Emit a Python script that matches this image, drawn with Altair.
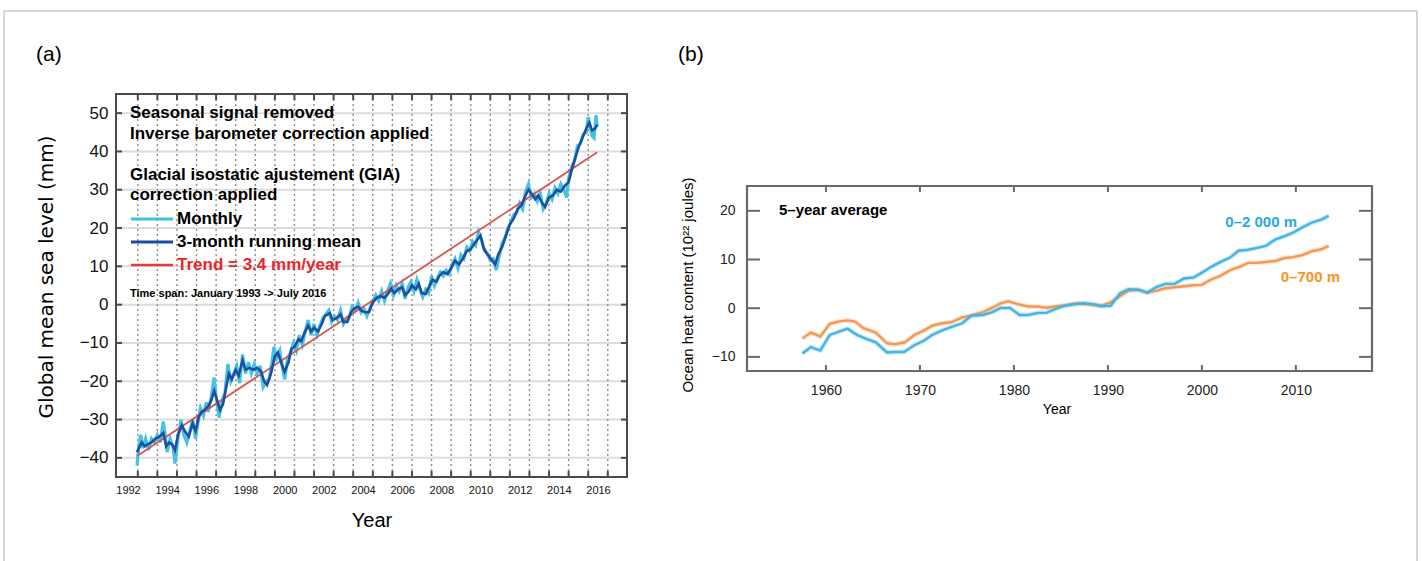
import altair as alt
import pandas as pd

W, H = 1422, 561

# ---------------- Panel (a): global mean sea level ----------------
rm_t = [1992.46, 1992.55, 1992.7, 1992.85, 1993.0, 1993.2, 1993.4, 1993.6, 1993.8, 1993.95,
        1994.1, 1994.25, 1994.4, 1994.55, 1994.75, 1994.9, 1995.1, 1995.3, 1995.45, 1995.6,
        1995.75, 1995.9, 1996.1, 1996.25, 1996.4, 1996.55, 1996.7, 1996.85, 1997.0, 1997.15,
        1997.3, 1997.5, 1997.65, 1997.85, 1998.0, 1998.2, 1998.4, 1998.6, 1998.8, 1998.95,
        1999.1, 1999.3, 1999.5, 1999.65, 1999.85, 2000.0, 2000.2, 2000.35, 2000.5, 2000.7,
        2000.85, 2001.0, 2001.2, 2001.35, 2001.5, 2001.7, 2001.9, 2002.05, 2002.3, 2002.45,
        2002.65, 2002.85, 2003.0, 2003.2, 2003.4, 2003.55, 2003.75, 2003.9, 2004.1, 2004.3,
        2004.5, 2004.7, 2004.9, 2005.1, 2005.3, 2005.45, 2005.6, 2005.8, 2006.0, 2006.15,
        2006.35, 2006.5, 2006.7, 2006.85, 2007.0, 2007.2, 2007.4, 2007.55, 2007.75, 2007.9,
        2008.1, 2008.3, 2008.5, 2008.7, 2008.9, 2009.1, 2009.3, 2009.5, 2009.7, 2009.85,
        2010.0, 2010.15, 2010.3, 2010.45, 2010.6, 2010.75, 2010.9, 2011.1, 2011.3, 2011.5,
        2011.7, 2011.9, 2012.1, 2012.3, 2012.45, 2012.6, 2012.8, 2012.95, 2013.15, 2013.3,
        2013.5, 2013.7, 2013.9, 2014.1, 2014.3, 2014.5, 2014.65, 2014.85, 2015.0, 2015.2,
        2015.4, 2015.55, 2015.7, 2015.85, 2015.96]
rm_v = [-38.5, -37.5, -36.0, -37.0, -36.5, -36.0, -35.0, -34.5, -33.5, -37.0,
        -36.0, -36.5, -38.0, -34.0, -31.5, -33.0, -34.5, -31.0, -33.0, -29.5,
        -28.0, -27.5, -26.5, -25.0, -22.5, -25.0, -27.5, -26.0, -22.0, -18.0,
        -19.5, -17.0, -18.5, -14.5, -17.0, -16.5, -17.0, -16.5, -17.5, -20.0,
        -21.0, -18.0, -13.5, -12.5, -15.5, -17.5, -15.0, -11.5, -11.0, -9.0,
        -9.5, -7.5, -5.5, -7.0, -6.0, -7.0, -5.0, -3.0, -2.2, -4.0,
        -3.5, -2.5, -4.5, -4.5, -2.0, -1.0, -0.5, -1.5, -2.0, -2.0,
        0.5, 1.8, 2.2, 1.8, 3.0, 4.2, 3.0, 4.0, 4.5, 2.5,
        3.5, 5.0, 4.0, 5.5, 3.0, 2.8, 5.0, 6.5, 6.0, 7.5,
        8.5, 8.0, 9.5, 11.5, 10.5, 12.0, 14.0, 14.5, 16.0, 17.0,
        18.0, 15.0, 13.5, 12.5, 11.5, 10.5, 13.0, 15.0, 18.0, 21.0,
        22.5, 25.0, 26.0, 28.5, 30.0, 29.0, 27.5, 28.5, 26.5, 25.5,
        28.0, 28.5, 30.0, 29.5, 31.0, 32.0, 35.0, 38.5, 41.0, 43.5,
        46.0, 47.5, 45.5, 46.0, 47.0]

mo_t = [1992.46, 1992.55, 1992.65, 1992.75, 1992.9, 1993.05, 1993.2, 1993.35, 1993.5, 1993.65,
        1993.8, 1993.9, 1994.0, 1994.15, 1994.3, 1994.4, 1994.55, 1994.7, 1994.85, 1995.0,
        1995.15, 1995.3, 1995.45, 1995.6, 1995.7, 1995.85, 1996.0, 1996.1, 1996.25, 1996.4,
        1996.5, 1996.65, 1996.8, 1996.95, 1997.1, 1997.25, 1997.4, 1997.55, 1997.7, 1997.85,
        1998.0, 1998.15, 1998.3, 1998.45, 1998.6, 1998.75, 1998.9, 1999.05, 1999.2, 1999.35,
        1999.45, 1999.6, 1999.75, 1999.9, 2000.0, 2000.15, 2000.3, 2000.45, 2000.6, 2000.75,
        2000.9, 2001.05, 2001.2, 2001.35, 2001.5, 2001.65, 2001.8, 2001.95, 2002.1, 2002.25,
        2002.4, 2002.55, 2002.7, 2002.85, 2003.0, 2003.15, 2003.3, 2003.45, 2003.6, 2003.75,
        2003.9, 2004.05, 2004.2, 2004.35, 2004.5, 2004.65, 2004.8, 2004.95, 2005.1, 2005.25,
        2005.4, 2005.55, 2005.7, 2005.85, 2006.0, 2006.15, 2006.3, 2006.45, 2006.6, 2006.75,
        2006.9, 2007.05, 2007.2, 2007.35, 2007.5, 2007.65, 2007.8, 2007.95, 2008.1, 2008.25,
        2008.4, 2008.55, 2008.7, 2008.85, 2009.0, 2009.15, 2009.3, 2009.45, 2009.6, 2009.75,
        2009.9, 2010.05, 2010.2, 2010.35, 2010.5, 2010.65, 2010.8, 2010.95, 2011.1, 2011.25,
        2011.4, 2011.55, 2011.7, 2011.85, 2012.0, 2012.15, 2012.3, 2012.45, 2012.6, 2012.75,
        2012.9, 2013.05, 2013.2, 2013.35, 2013.5, 2013.65, 2013.8, 2013.95, 2014.1, 2014.25,
        2014.4, 2014.5, 2014.65, 2014.8, 2014.95, 2015.1, 2015.25, 2015.4, 2015.5, 2015.6,
        2015.7, 2015.8, 2015.9, 2015.96]
mo_v = [-42.0, -37.0, -34.0, -37.5, -35.0, -38.0, -35.0, -36.0, -34.0, -36.0,
        -30.5, -34.0, -38.5, -35.0, -37.0, -41.5, -35.0, -30.0, -34.0, -36.0,
        -33.0, -30.0, -35.0, -30.0, -27.0, -29.0, -25.5, -28.0, -24.0, -19.0,
        -24.0, -29.5, -25.0, -23.0, -15.5, -20.0, -18.0, -16.0, -20.5, -13.0,
        -18.0, -15.0, -18.0, -15.5, -18.0, -16.0, -21.5, -20.0, -19.5, -15.0,
        -11.0, -14.0, -12.0, -17.0, -19.5, -14.0, -12.5, -10.0, -12.0, -8.0,
        -10.5, -7.0, -4.0, -8.0, -5.0, -8.0, -5.5, -3.5, -2.5, -1.5,
        -4.5, -3.0, -4.0, -1.5, -5.0, -3.5, -3.0, -0.5, -1.5, 0.5,
        -2.0, -1.0, -3.0, -1.0, 1.0, 2.5, 1.0, 3.5, 1.0, 3.5,
        5.5, 2.5, 5.0, 3.5, 5.5, 1.5, 4.5, 6.0, 3.5, 6.5,
        4.0, 2.0, 4.0, 3.0, 7.5, 5.0, 7.0, 8.5, 7.5, 9.0,
        8.0, 10.5, 12.0, 9.5, 13.0, 12.0, 15.0, 14.0, 16.5, 15.5,
        19.0, 17.0, 14.0, 13.5, 11.5, 12.0, 9.0, 12.5, 16.0, 17.5,
        20.0, 21.5, 23.5, 24.0, 26.5, 25.0, 29.5, 31.5, 28.0, 29.0,
        27.0, 29.0, 25.0, 26.5, 29.0, 27.5, 30.5, 29.0, 31.5, 30.0,
        28.0, 33.0, 36.0, 37.5, 41.5, 42.0, 44.5, 45.0, 49.0, 46.5,
        44.0, 43.5, 49.5, 46.5]

trend_t = [1992.46, 2015.96]
trend_v = [-39.5, 39.8]

a_xlabels = [1992, 1994, 1996, 1998, 2000, 2002, 2004, 2006, 2008, 2010, 2012, 2014, 2016]
a_yvals = [-40, -30, -20, -10, 0, 10, 20, 30, 40, 50]
a_vgrid = [1992.5, 1993.5, 1994.5, 1995.5, 1996.5, 1997.5, 1998.5, 1999.5, 2000.5,
           2001.5, 2002.5, 2003.5, 2004.5, 2005.5, 2006.5, 2007.5, 2008.5, 2009.5,
           2010.5, 2011.5, 2012.5, 2013.5, 2014.5, 2015.5, 2016.5]

# ---------------- Panel (b): ocean heat content ----------------
b_blue_t = [1957.5, 1958.4, 1959.4, 1960.4, 1961.4, 1962.3, 1963.3, 1964.3, 1965.3, 1966.5,
            1967.3, 1968.3, 1969.4, 1970.4, 1971.3, 1972.3, 1973.3, 1974.5, 1975.5, 1976.7,
            1977.7, 1978.6, 1979.6, 1980.6, 1981.5, 1982.5, 1983.5, 1984.5, 1985.4, 1986.4,
            1987.4, 1988.4, 1989.3, 1990.3, 1991.3, 1992.2, 1993.2, 1994.2, 1995.2, 1996.1,
            1997.1, 1998.1, 1999.1, 2000.0, 2001.0, 2002.0, 2003.0, 2003.9, 2004.9, 2005.9,
            2006.8, 2007.8, 2008.8, 2009.7, 2010.7, 2011.7, 2012.7, 2013.5]
b_blue_v = [-9.3, -8.0, -8.7, -5.5, -4.8, -4.2, -5.5, -6.3, -7.0, -9.1,
            -9.0, -9.0, -7.6, -6.7, -5.5, -4.6, -3.9, -3.1, -1.5, -1.4,
            -0.8, 0.05, 0.05, -1.4, -1.4, -1.0, -0.9, -0.1, 0.5, 0.8,
            1.0, 0.8, 0.4, 0.5, 3.1, 3.9, 3.8, 3.2, 4.4, 5.0,
            5.0, 6.1, 6.3, 7.3, 8.5, 9.5, 10.4, 11.8, 12.0, 12.4,
            12.8, 14.1, 14.8, 15.5, 16.6, 17.6, 18.2, 19.0]
b_orange_t = [1957.5, 1958.4, 1959.4, 1960.4, 1961.4, 1962.3, 1963.1, 1964.0, 1965.3, 1966.5,
              1967.4, 1968.4, 1969.4, 1970.4, 1971.3, 1972.3, 1973.3, 1974.5, 1975.5, 1976.7,
              1977.7, 1978.6, 1979.4, 1980.3, 1981.5, 1982.5, 1983.5, 1984.5, 1985.4, 1986.4,
              1987.4, 1988.4, 1989.3, 1990.3, 1991.3, 1992.2, 1993.2, 1994.2, 1995.2, 1996.1,
              1997.1, 1998.1, 1999.1, 2000.0, 2001.0, 2002.0, 2003.0, 2004.0, 2004.9, 2005.9,
              2006.8, 2007.8, 2008.8, 2009.7, 2010.7, 2011.7, 2012.7, 2013.5]
b_orange_v = [-6.2, -5.0, -5.8, -3.2, -2.7, -2.5, -2.75, -4.1, -5.0, -7.2,
              -7.4, -7.0, -5.5, -4.6, -3.6, -3.1, -2.9, -1.9, -1.5, -0.8,
              0.1, 1.0, 1.45, 0.9, 0.35, 0.35, 0.1, 0.4, 0.55, 0.9,
              0.9, 0.7, 0.55, 1.2, 2.5, 3.6, 3.8, 3.2, 3.6, 4.1,
              4.3, 4.5, 4.7, 4.8, 5.9, 6.7, 7.8, 8.5, 9.3, 9.3,
              9.5, 9.7, 10.3, 10.5, 10.9, 11.7, 12.1, 12.8]
b_xlabels = [1960, 1970, 1980, 1990, 2000, 2010]
b_yvals = [-10, 0, 10, 20]

# ---------------- scales (pixel ranges place the two panels) ----------------
XA = alt.Scale(domain=[1991.387, 2017.481], range=[116, 627], nice=False, zero=False)
YA = alt.Scale(domain=[-45, 55], range=[477, 94], nice=False, zero=False)
XB = alt.Scale(domain=[1951.6, 2018.1], range=[747, 1372], nice=False, zero=False)
YB = alt.Scale(domain=[-12.9, 25.1], range=[371, 186], nice=False, zero=False)

FONT = "Liberation Sans"
one = pd.DataFrame({"k": [0]})

df_rm = pd.DataFrame({"t": rm_t, "v": rm_v})
df_mo = pd.DataFrame({"t": mo_t, "v": mo_v})
df_tr = pd.DataFrame({"t": trend_t, "v": trend_v})
df_ay = pd.DataFrame({"v": a_yvals})
df_ag = pd.DataFrame({"t": a_vgrid})
df_bb = pd.DataFrame({"t": b_blue_t, "v": b_blue_v})
df_bo = pd.DataFrame({"t": b_orange_t, "v": b_orange_v})
df_bx = pd.DataFrame({"t": b_xlabels})
df_by = pd.DataFrame({"v": b_yvals})

NOAX = None


def txt(s, x, y, size, color="black", weight="normal", align="left",
        baseline="alphabetic", angle=0, font=FONT):
    return alt.Chart(one).mark_text(
        text=s, fontSize=size, color=color, fontWeight=weight, align=align,
        baseline=baseline, angle=angle, font=font
    ).encode(x=alt.value(x), y=alt.value(y))


def seg(x1, x2, y1, y2, color, w):
    return alt.Chart(one).mark_rule(color=color, strokeWidth=w).encode(
        x=alt.value(x1), x2=alt.value(x2), y=alt.value(y1), y2=alt.value(y2))


layers = []

# outer light frame
layers += [seg(4, 1417, 11, 11, "#c9c9c9", 1.5),
           seg(4, 4, 11, 561, "#c9c9c9", 1.5),
           seg(1417, 1417, 11, 561, "#c9c9c9", 1.5)]

# ---- panel a grid ----
layers.append(alt.Chart(df_ay).mark_rule(color="#dcdcdc", strokeWidth=2).encode(
    y=alt.Y("v:Q", scale=YA, axis=NOAX), x=alt.value(116), x2=alt.value(627)))
layers.append(alt.Chart(df_ag).mark_rule(color="#8c8c8c", strokeWidth=1.4, strokeDash=[2, 3]).encode(
    x=alt.X("t:Q", scale=XA, axis=NOAX), y=alt.value(94), y2=alt.value(477)))

# ---- panel a data ----
layers.append(alt.Chart(df_mo).mark_line(color="#45c3e3", strokeWidth=3.2).encode(
    x=alt.X("t:Q", scale=XA, axis=NOAX), y=alt.Y("v:Q", scale=YA, axis=NOAX)))
layers.append(alt.Chart(df_tr).mark_line(color="#d9534f", strokeWidth=1.8).encode(
    x=alt.X("t:Q", scale=XA, axis=NOAX), y=alt.Y("v:Q", scale=YA, axis=NOAX)))
layers.append(alt.Chart(df_rm).mark_line(color="#1d4f9f", strokeWidth=2.6).encode(
    x=alt.X("t:Q", scale=XA, axis=alt.Axis(
        orient="bottom", values=a_xlabels, format="d", title=None, domain=False, ticks=False,
        grid=False, labelFontSize=11, labelFont=FONT, labelColor="#111", labelPadding=7,
        offset=-84)),
    y=alt.Y("v:Q", scale=YA, axis=alt.Axis(
        orient="left", values=a_yvals, format="d", title=None, domain=False, ticks=False,
        grid=False, labelFontSize=17, labelFont=FONT, labelColor="#111", labelPadding=8,
        offset=-116))))

# ---- panel a frame and ticks ----
layers.append(alt.Chart(one).mark_rect(fillOpacity=0, stroke="#4a4a4a", strokeWidth=2).encode(
    x=alt.value(116), x2=alt.value(627), y=alt.value(94), y2=alt.value(477)))
layers.append(alt.Chart(df_ag).mark_rule(color="#4a4a4a", strokeWidth=2).encode(
    x=alt.X("t:Q", scale=XA, axis=NOAX), y=alt.value(94), y2=alt.value(100)))
layers.append(alt.Chart(df_ag).mark_rule(color="#4a4a4a", strokeWidth=2).encode(
    x=alt.X("t:Q", scale=XA, axis=NOAX), y=alt.value(471), y2=alt.value(477)))
layers.append(alt.Chart(df_ay).mark_rule(color="#4a4a4a", strokeWidth=2).encode(
    y=alt.Y("v:Q", scale=YA, axis=NOAX), x=alt.value(116), x2=alt.value(122)))
layers.append(alt.Chart(df_ay).mark_rule(color="#4a4a4a", strokeWidth=2).encode(
    y=alt.Y("v:Q", scale=YA, axis=NOAX), x=alt.value(621), x2=alt.value(627)))

# ---- panel a annotations ----
layers += [
    txt("(a)", 36, 61, 21),
    txt("Seasonal signal removed", 130, 118, 17, weight="bold"),
    txt("Inverse barometer correction applied", 130, 139, 17, weight="bold"),
    txt("Glacial isostatic ajustement (GIA)", 130, 180, 17, weight="bold"),
    txt("correction applied", 130, 200, 17, weight="bold"),
    seg(131, 173, 219, 219, "#3fc0dd", 3),
    txt("Monthly", 177, 224, 17, weight="bold"),
    seg(131, 173, 242, 242, "#1a4e9c", 3),
    txt("3-month running mean", 177, 247, 17, weight="bold"),
    seg(131, 173, 265, 265, "#e33b3b", 2.5),
    txt("Trend = 3.4 mm/year", 177, 270, 17, color="#e8262a", weight="bold"),
    txt("Time span: January 1993 -> July 2016", 130, 297, 11, weight="bold"),
    txt("Year", 372, 521, 20, align="center", baseline="middle"),
    txt("Global mean sea level (mm)", 47, 277, 20, align="center", baseline="middle",
        angle=270, font="DejaVu Sans"),
]

# ---- panel b data (soft halo under each line) ----
layers.append(alt.Chart(df_bo).mark_line(color="#f29a55", strokeWidth=5, opacity=0.25).encode(
    x=alt.X("t:Q", scale=XB, axis=NOAX), y=alt.Y("v:Q", scale=YB, axis=NOAX)))
layers.append(alt.Chart(df_bo).mark_line(color="#f29a55", strokeWidth=2.4).encode(
    x=alt.X("t:Q", scale=XB, axis=NOAX), y=alt.Y("v:Q", scale=YB, axis=NOAX)))
layers.append(alt.Chart(df_bb).mark_line(color="#49b3df", strokeWidth=5, opacity=0.25).encode(
    x=alt.X("t:Q", scale=XB, axis=NOAX), y=alt.Y("v:Q", scale=YB, axis=NOAX)))
layers.append(alt.Chart(df_bb).mark_line(color="#49b3df", strokeWidth=2.4).encode(
    x=alt.X("t:Q", scale=XB, axis=alt.Axis(
        orient="bottom", values=b_xlabels, format="d", title=None, domain=False, ticks=False,
        grid=False, labelFontSize=14, labelFont=FONT, labelColor="#222", labelPadding=12,
        offset=-190)),
    y=alt.Y("v:Q", scale=YB, axis=alt.Axis(
        orient="left", values=b_yvals, format="d", title=None, domain=False, ticks=False,
        grid=False, labelFontSize=14, labelFont=FONT, labelColor="#222", labelPadding=12,
        offset=-747))))

# ---- panel b frame and ticks ----
layers.append(alt.Chart(one).mark_rect(fillOpacity=0, stroke="#6a6a6a", strokeWidth=2.2).encode(
    x=alt.value(747), x2=alt.value(1372), y=alt.value(186), y2=alt.value(371)))
layers.append(alt.Chart(df_by).mark_rule(color="#6a6a6a", strokeWidth=2).encode(
    y=alt.Y("v:Q", scale=YB, axis=NOAX), x=alt.value(747), x2=alt.value(760)))
layers.append(alt.Chart(df_by).mark_rule(color="#6a6a6a", strokeWidth=2).encode(
    y=alt.Y("v:Q", scale=YB, axis=NOAX), x=alt.value(1359), x2=alt.value(1372)))
layers.append(alt.Chart(df_bx).mark_rule(color="#6a6a6a", strokeWidth=2).encode(
    x=alt.X("t:Q", scale=XB, axis=NOAX), y=alt.value(186), y2=alt.value(192)))
layers.append(alt.Chart(df_bx).mark_rule(color="#6a6a6a", strokeWidth=2).encode(
    x=alt.X("t:Q", scale=XB, axis=NOAX), y=alt.value(365), y2=alt.value(371)))

# ---- panel b annotations ----
layers += [
    txt("(b)", 678, 61, 21),
    txt("5\u2013year average", 779, 215, 15, weight="bold"),
    txt("0\u20132\u00a0000 m", 1297, 227, 15, color="#29aae1", weight="bold", align="right"),
    txt("0\u2013700 m", 1340, 282, 15, color="#f7941d", weight="bold", align="right"),
    txt("Year", 1057, 410, 14, align="center", baseline="middle"),
    txt("Ocean heat content (10\u00b2\u00b2 joules)", 688, 285, 15, align="center",
        baseline="middle", angle=270),
]

chart = alt.layer(*layers).resolve_scale(x="independent", y="independent").properties(
    width=W, height=H, autosize=alt.AutoSizeParams(type="none"), padding=0,
    background="white"
).configure_view(stroke=None)

chart.save("out.html", embed_options={"renderer": "svg", "actions": False})
